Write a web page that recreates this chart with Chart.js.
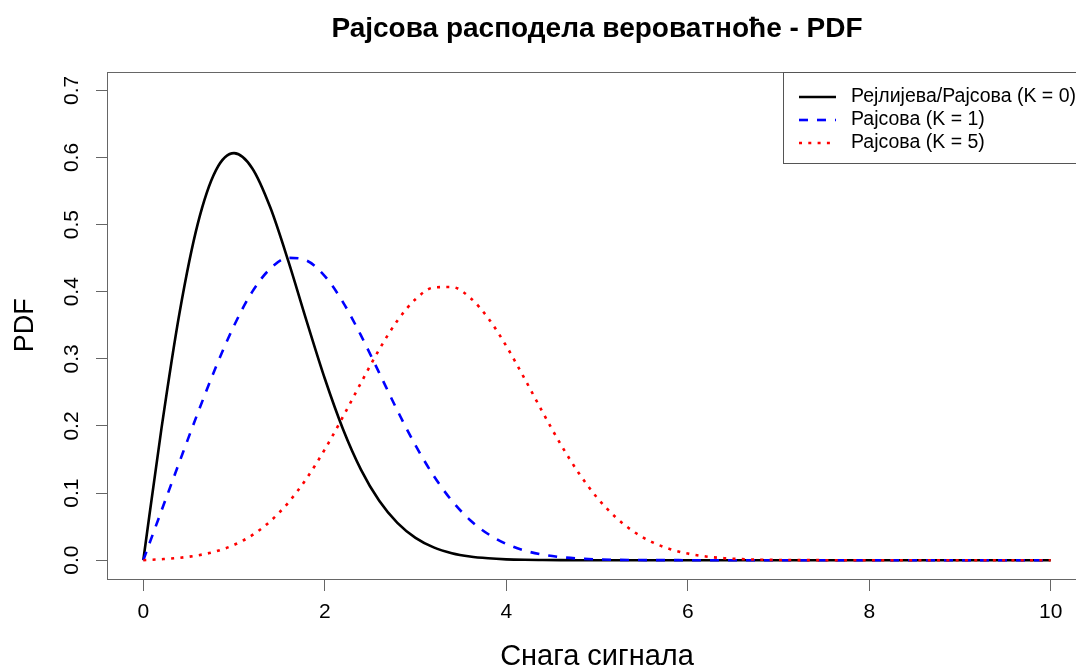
<!DOCTYPE html>
<html>
<head>
<meta charset="utf-8">
<script src="https://cdn.jsdelivr.net/npm/chart.js@4.4.1/dist/chart.umd.min.js"></script>
<style>
html,body{margin:0;padding:0;overflow:hidden;background:#fff;width:1076px;height:670px}
#wrap{position:absolute;left:0;top:0;width:1100px;height:670px}
</style>
</head>
<body>
<div id="wrap"><canvas id="c" width="1100" height="670"></canvas></div>
<script>
const chartTitle = 'Рајсова расподела вероватноће - PDF';
const xAxisTitle = 'Снага сигнала';
const yAxisTitle = 'PDF';
const seriesNames = ['Рејлијева/Рајсова (K = 0)', 'Рајсова (K = 1)', 'Рајсова (K = 5)'];

const xValues = [0,0.2,0.4,0.6,0.8,1.0,1.2,1.4,1.6,1.8,2.0,2.2,2.4,2.6,2.8,3.0,3.2,3.4,3.6,3.8,4.0,4.2,4.4,4.6,4.8,
  5.0,5.2,5.4,5.6,5.8,6.0,6.2,6.4,6.6,6.8,7.0,7.2,7.4,7.6,7.8,8.0,8.2,8.4,8.6,8.8,9.0,9.2,9.4,9.6,9.8,10.0];

const rayleighK0 = [0,0.1960,0.3692,0.5012,0.5809,0.6065,0.5841,0.5254,0.4448,0.3562,0.2707,0.1956,0.1347,0.0885,0.0556,
  0.0333,0.0191,0.0105,0.0055,0.0028,0.0013,0.0006,0.0003,0.0001,0,
  0,0,0,0,0,0,0,0,0,0,0,0,0,0,0,0,0,0,0,0,0,0,0,0,0,0];

const riceK1 = [0,0.0736,0.1469,0.2191,0.2878,0.3494,0.3998,0.4345,0.4505,0.4465,0.4234,0.3846,0.3346,0.2791,0.2231,
  0.1711,0.1258,0.0887,0.0600,0.0390,0.0243,0.0145,0.0083,0.0046,0.0024,
  0.0012,0.0006,0.0003,0.0001,0.0001,0,0,0,0,0,0,0,0,0,0,0,0,0,0,0,0,0,0,0,0,0];

const riceK5 = [0,0.0015,0.0036,0.0072,0.0132,0.0228,0.0373,0.0581,0.0861,0.1220,0.1650,0.2136,0.2646,0.3139,0.3569,
  0.3889,0.4063,0.4071,0.3913,0.3608,0.3192,0.2710,0.2208,0.1727,0.1297,
  0.0934,0.0647,0.0430,0.0274,0.0168,0.0099,0.0056,0.0030,0.0016,0.0008,0.0004,0.0002,0.0001,0,0,
  0,0,0,0,0,0,0,0,0,0,0];

const xTickValues = [0,2,4,6,8,10];
const xTickLabels = ['0','2','4','6','8','10'];
const yTickValues = [0,0.1,0.2,0.3,0.4,0.5,0.6,0.7];
const yTickLabels = ['0.0','0.1','0.2','0.3','0.4','0.5','0.6','0.7'];

const FONT = '"Liberation Sans", Arial, Helvetica, sans-serif';
const AXIS_GREY = '#666666';

function pts(ys){ return xValues.map((x,i)=>({x:x, y:ys[i]})); }

const boxPlugin = {
  id:'rbox',
  afterDraw(chart){
    const a = chart.chartArea, ctx = chart.ctx;
    ctx.save();
    ctx.strokeStyle = AXIS_GREY; ctx.lineWidth = 1;
    ctx.strokeRect(Math.round(a.left)+0.5, Math.round(a.top)+0.5, Math.round(a.right-a.left), Math.round(a.bottom-a.top));
    ctx.restore();
  }
};

const legendPlugin = {
  id:'rlegend',
  afterDraw(chart){
    const a = chart.chartArea, ctx = chart.ctx;
    const w = 304, h = 91;
    const left = Math.round(a.right) - w, top = Math.round(a.top);
    ctx.save();
    ctx.fillStyle = '#fff';
    ctx.fillRect(left+0.5, top+0.5, w, h);
    ctx.strokeStyle = '#555'; ctx.lineWidth = 1;
    ctx.strokeRect(left+0.5, top+0.5, w, h);
    const rows = [25, 48, 71];
    chart.data.datasets.forEach((ds, i) => {
      const y = top + rows[i];
      ctx.beginPath();
      ctx.strokeStyle = ds.borderColor;
      ctx.lineWidth = ds.borderWidth;
      ctx.setLineDash(ds.borderDash || []);
      ctx.moveTo(left+16, y); ctx.lineTo(left+53, y);
      ctx.stroke();
      ctx.setLineDash([]);
      ctx.fillStyle = '#000';
      ctx.font = '19.5px ' + FONT;
      ctx.textBaseline = 'middle';
      ctx.textAlign = 'left';
      ctx.fillText(ds.label, left+68, y);
    });
    ctx.restore();
  }
};

const commonLine = {borderWidth:2.6, pointRadius:0, pointHoverRadius:0, fill:false, cubicInterpolationMode:'monotone', showLine:true};

new Chart(document.getElementById('c'), {
  type:'scatter',
  data:{
    datasets:[
      Object.assign({label:seriesNames[0], data:pts(rayleighK0), borderColor:'#000000', backgroundColor:'#000000', borderDash:[], order:2}, commonLine),
      Object.assign({label:seriesNames[1], data:pts(riceK1), borderColor:'#0000FF', backgroundColor:'#0000FF', borderDash:[9,9], order:1}, commonLine),
      Object.assign({label:seriesNames[2], data:pts(riceK5), borderColor:'#FF0000', backgroundColor:'#FF0000', borderDash:[3,6.3], order:0}, commonLine)
    ]
  },
  options:{
    responsive:false, animation:false, devicePixelRatio:1,
    layout:{padding:{left:0,right:13,top:0,bottom:0}},
    plugins:{
      legend:{display:false},
      tooltip:{enabled:false},
      title:{display:true, text:chartTitle, fullSize:false, color:'#000',
        font:{family:FONT, size:28, weight:'bold', lineHeight:1.2}, padding:{top:12,bottom:26}}
    },
    scales:{
      x:{
        type:'linear', min:-0.4, max:10.4,
        afterBuildTicks:(s)=>{ s.ticks = xTickValues.map(v=>({value:v})); },
        afterFit:(s)=>{ s.height = 91; },
        ticks:{callback:(v,i)=>xTickLabels[i], color:'#000', font:{family:FONT,size:21}, padding:9, maxRotation:0, minRotation:0, autoSkip:false},
        grid:{drawOnChartArea:false, drawTicks:true, tickLength:12, color:AXIS_GREY, lineWidth:1},
        border:{display:false},
        title:{display:true, text:xAxisTitle, color:'#000', font:{family:FONT,size:29,lineHeight:0.9}, padding:{top:0,bottom:0}}
      },
      y:{
        type:'linear', min:-0.028, max:0.728,
        afterBuildTicks:(s)=>{ s.ticks = yTickValues.map(v=>({value:v})); },
        afterFit:(s)=>{ s.width = 107; },
        ticks:{callback:(v,i)=>yTickLabels[i], color:'#000', font:{family:FONT,size:21}, padding:9, minRotation:90, maxRotation:90, crossAlign:'center', autoSkip:false},
        grid:{drawOnChartArea:false, drawTicks:true, tickLength:11, color:AXIS_GREY, lineWidth:1},
        border:{display:false},
        title:{display:true, text:yAxisTitle, color:'#000', font:{family:FONT,size:27,lineHeight:1}, padding:{top:12,bottom:0}}
      }
    }
  },
  plugins:[boxPlugin, legendPlugin]
});
</script>
</body>
</html>
